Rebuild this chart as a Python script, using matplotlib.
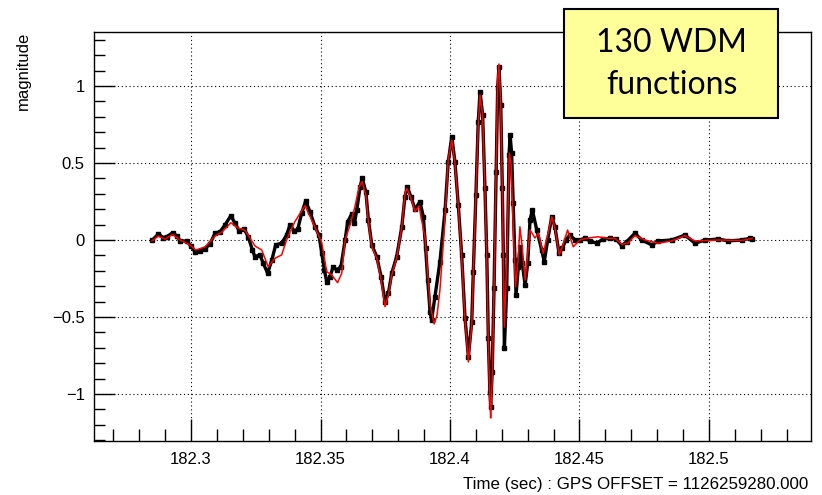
import matplotlib
matplotlib.use("Agg")
import matplotlib.pyplot as plt
from matplotlib.patches import Rectangle
from matplotlib.ticker import MultipleLocator, FixedLocator

# ---- data (time in s, magnitude) ----
black_t = [182.2851, 182.2874, 182.2893, 182.2906, 182.2929, 182.2945, 182.2958, 182.2983,
           182.3000, 182.3015, 182.3035, 182.3054, 182.3073, 182.3093, 182.3112, 182.3131,
           182.3154, 182.3170, 182.3186, 182.3206, 182.3221, 182.3237, 182.3247, 182.3266,
           182.3279, 182.3296, 182.3312, 182.3327, 182.3350, 182.3369, 182.3382, 182.3399,
           182.3412, 182.3427, 182.3443, 182.3459, 182.3479, 182.3494, 182.3505, 182.3515,
           182.3524, 182.3537, 182.3549, 182.3563, 182.3579, 182.3595, 182.3605, 182.3620,
           182.3631, 182.3640, 182.3653, 182.3661, 182.3675, 182.3685, 182.3698, 182.3717,
           182.3734, 182.3749, 182.3762, 182.3775, 182.3794, 182.3814, 182.3826, 182.3835,
           182.3849, 182.3865, 182.3884, 182.3897, 182.3906, 182.3914, 182.3923, 182.3929,
           182.3942, 182.3961, 182.3981, 182.3993, 182.4007, 182.4019, 182.4032, 182.4045,
           182.4058, 182.4071, 182.4084, 182.4090, 182.4100, 182.4109, 182.4116, 182.4126,
           182.4135, 182.4142, 182.4148, 182.4154, 182.4157, 182.4163, 182.4170, 182.4178,
           182.4184, 182.4189, 182.4196, 182.4202, 182.4206, 182.4210, 182.4219, 182.4228,
           182.4232, 182.4238, 182.4244, 182.4251, 182.4255, 182.4264, 182.4270, 182.4279,
           182.4290, 182.4300, 182.4309, 182.4318, 182.4335, 182.4354, 182.4364, 182.4377,
           182.4393, 182.4405, 182.4421, 182.4434, 182.4447, 182.4463, 182.4483, 182.4502,
           182.4521, 182.4541, 182.4566, 182.4591, 182.4618, 182.4641, 182.4663, 182.4682,
           182.4714, 182.4740, 182.4779, 182.4804, 182.4856, 182.4907, 182.4946, 182.4985,
           182.5036, 182.5075, 182.5126, 182.5158, 182.5167]
black_v = [0.000, 0.039, 0.015, 0.021, 0.047, 0.026, -0.005, -0.008,
           -0.039, -0.076, -0.071, -0.056, -0.026, 0.044, 0.054, 0.097,
           0.158, 0.108, 0.060, 0.069, 0.021, -0.065, -0.108, -0.097,
           -0.151, -0.216, -0.130, -0.032, -0.021, 0.032, 0.097, 0.058,
           0.069, 0.173, 0.255, 0.184, 0.086, 0.032, -0.086, -0.195,
           -0.271, -0.238, -0.173, -0.195, -0.173, 0.000, 0.119, 0.167,
           0.108, 0.195, 0.346, 0.401, 0.314, 0.130, -0.032, -0.108,
           -0.238, -0.401, -0.346, -0.216, -0.108, 0.086, 0.281, 0.346,
           0.281, 0.199, 0.249, 0.151, -0.054, -0.260, -0.466, -0.519,
           -0.368, -0.143, 0.195, 0.506, 0.671, 0.508, 0.227, -0.097,
           -0.508, -0.758, -0.531, -0.206, 0.292, 0.768, 0.963, 0.812,
           0.336, -0.097, -0.638, -0.985, -1.082, -0.855, -0.314, 0.444,
           0.985, 1.125, 0.877, 0.336, -0.097, -0.703, -0.314, 0.552,
           0.682, 0.563, 0.238, -0.130, -0.357, -0.173, -0.044, -0.151,
           -0.292, -0.151, 0.130, 0.195, 0.065, -0.065, -0.141, 0.000,
           0.151, 0.086, -0.086, -0.054, 0.000, 0.032, 0.000, 0.000,
           0.011, -0.006, -0.021, 0.006, 0.011, 0.006, -0.037, -0.011,
           0.044, 0.000, -0.032, -0.006, 0.000, 0.032, -0.021, 0.000,
           0.006, -0.006, 0.000, 0.011, 0.006]

red_t = [182.2849, 182.2873, 182.2900, 182.2929, 182.2958, 182.2996, 182.3019, 182.3054,
         182.3093, 182.3120, 182.3154, 182.3181, 182.3208, 182.3247, 182.3273, 182.3298,
         182.3324, 182.3350, 182.3369, 182.3401, 182.3440, 182.3472, 182.3505, 182.3524,
         182.3543, 182.3566, 182.3582, 182.3595, 182.3614, 182.3633, 182.3649, 182.3661,
         182.3675, 182.3685, 182.3698, 182.3717, 182.3734, 182.3749, 182.3762, 182.3775,
         182.3794, 182.3814, 182.3826, 182.3833, 182.3849, 182.3865, 182.3880, 182.3904,
         182.3923, 182.3939, 182.3950, 182.3961, 182.3978, 182.3993, 182.4007, 182.4019,
         182.4032, 182.4045, 182.4058, 182.4071, 182.4084, 182.4090, 182.4100, 182.4109,
         182.4116, 182.4126, 182.4135, 182.4142, 182.4148, 182.4154, 182.4157, 182.4163,
         182.4170, 182.4178, 182.4184, 182.4189, 182.4196, 182.4202, 182.4206, 182.4210,
         182.4219, 182.4229, 182.4236, 182.4244, 182.4253, 182.4263, 182.4270, 182.4280,
         182.4290, 182.4309, 182.4328, 182.4341, 182.4360, 182.4377, 182.4393, 182.4405,
         182.4422, 182.4436, 182.4454, 182.4476, 182.4502, 182.4533, 182.4571, 182.4610,
         182.4637, 182.4663, 182.4687, 182.4714, 182.4753, 182.4804, 182.4856, 182.4907,
         182.4946, 182.5036, 182.5126, 182.5167]
red_v = [-0.006, 0.026, 0.006, 0.036, 0.000, -0.032, -0.065, -0.045,
         0.026, 0.052, 0.112, 0.078, 0.065, -0.039, -0.065, -0.173,
         -0.119, -0.097, 0.000, 0.119, 0.223, 0.108, -0.018, -0.206,
         -0.227, -0.277, -0.216, 0.000, 0.097, 0.216, 0.346, 0.379,
         0.292, 0.117, -0.045, -0.117, -0.260, -0.433, -0.357, -0.227,
         -0.117, 0.084, 0.299, 0.336, 0.273, 0.184, 0.221, 0.011,
         -0.422, -0.545, -0.487, -0.325, 0.065, 0.519, 0.649, 0.500,
         0.227, -0.117, -0.519, -0.792, -0.552, -0.208, 0.292, 0.747,
         0.942, 0.812, 0.325, -0.117, -0.682, -1.039, -1.156, -0.909,
         -0.325, 0.455, 1.039, 1.143, 0.877, 0.325, -0.162, -0.565,
         -0.130, 0.563, 0.487, 0.086, -0.303, -0.130, 0.086, -0.065,
         -0.260, 0.065, 0.013, 0.044, -0.086, 0.032, 0.151, 0.078,
         -0.097, -0.032, 0.065, -0.044, 0.000, 0.013, 0.021, 0.011,
         0.011, -0.028, -0.021, 0.028, 0.000, -0.021, -0.006, 0.028,
         -0.006, 0.000, -0.003, 0.010]

x_major = [182.3, 182.35, 182.4, 182.45, 182.5]
x_labels = ["182.3", "182.35", "182.4", "182.45", "182.5"]
y_major = [-1, -0.5, 0, 0.5, 1]
y_labels = ["\u22121", "\u22120.5", "0", "0.5", "1"]

plt.rcParams['font.family'] = ['Liberation Sans', 'DejaVu Sans']

fig = plt.figure(figsize=(8.22, 4.95), dpi=100)
ax = fig.add_axes([0.11496, 0.10909, 0.87165, 0.82566])

ax.plot(black_t, black_v, color='black', lw=2.4, marker='s', ms=2.2,
        solid_joinstyle='round', zorder=3)
ax.plot(red_t, red_v, color='#ff0000', lw=1.1, zorder=4)

ax.set_xlim(182.26274, 182.53938)
ax.set_ylim(-1.3052, 1.3487)

ax.xaxis.set_major_locator(FixedLocator(x_major))
ax.set_xticklabels(x_labels)
ax.xaxis.set_minor_locator(MultipleLocator(0.01))
ax.yaxis.set_major_locator(FixedLocator(y_major))
ax.set_yticklabels(y_labels)
ax.yaxis.set_minor_locator(MultipleLocator(0.1))

ax.tick_params(axis='both', which='both', direction='in', top=False, right=False,
               labelsize=12, width=1.0, color='black')
ax.tick_params(axis='y', which='major', length=15, pad=7)
ax.tick_params(axis='y', which='minor', length=8)
ax.tick_params(axis='x', which='major', length=16, pad=8)
ax.tick_params(axis='x', which='minor', length=8.5)

ax.grid(True, which='major', color='black', linestyle=(0, (1, 2.5)), linewidth=0.8)
for s in ax.spines.values():
    s.set_linewidth(1.0)
    s.set_color('black')

fig.text(0.9836, 0.022, "Time (sec) : GPS OFFSET = 1126259280.000", ha='right',
         va='center', fontsize=12.2)
fig.text(0.029, 0.935, "magnitude", rotation=90, ha='center', va='top', fontsize=12)

rect = Rectangle((0.6861, 0.761), 0.2607, 0.2208, transform=fig.transFigure,
                 facecolor='#ffff99', edgecolor='black', linewidth=1.5, zorder=10)
fig.add_artist(rect)
fig.text(0.8171, 0.9131, "130 WDM", ha='center', va='center', fontsize=23,
         family=['Lato', 'DejaVu Sans'], zorder=11)
fig.text(0.8171, 0.8283, "functions", ha='center', va='center', fontsize=23,
         family=['Lato', 'DejaVu Sans'], zorder=11)

fig.savefig("out.png", dpi=100)
